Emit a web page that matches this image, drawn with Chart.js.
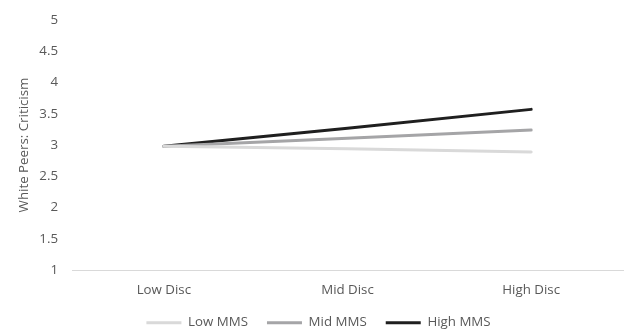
<!DOCTYPE html>
<html>
<head>
<meta charset="utf-8">
<script src="https://cdn.jsdelivr.net/npm/chart.js@4/dist/chart.umd.min.js"></script>
<style>
html,body{margin:0;padding:0;background:#fff;}
#wrap{width:628px;height:333px;}
</style>
</head>
<body>
<div id="wrap"><canvas id="c" width="628" height="333"></canvas></div>
<script>
const categories = ["Low Disc", "Mid Disc", "High Disc"];
const lowMMS = [2.98, 2.94, 2.89];
const midMMS = [2.98, 3.11, 3.24];
const highMMS = [2.98, 3.27, 3.57];
const yTicks = [1, 1.5, 2, 2.5, 3, 3.5, 4, 4.5, 5];
const seriesNames = ["Low MMS", "Mid MMS", "High MMS"];
const yTitle = "White Peers: Criticism";

const FONT = "'Open Sans', 'Liberation Sans', sans-serif";
const TXT = "#595959";
const colors = ["#d9d9d9", "#a5a5a7", "#1f1f1f"];
const FS = 13.3;
const LEG_PAD = 19;
const LEG_H = 22;

const legendShift = {
  id: 'legendShift',
  afterInit(chart) {
    const lg = chart.legend;
    if (!lg) return;
    const f = lg.fit;
    lg.fit = function () { f.call(this); this.height = LEG_H; };
  },
  afterLayout(chart) {
    const lg = chart.legend;
    lg.top = 322 - LEG_PAD - 6;
    lg.bottom = 333;
  }
};

new Chart(document.getElementById('c'), {
  type: 'line',
  data: {
    labels: categories,
    datasets: [lowMMS, midMMS, highMMS].map((d, i) => ({
      label: seriesNames[i],
      data: d,
      borderColor: colors[i],
      backgroundColor: colors[i],
      borderWidth: 3,
      pointRadius: 0,
      tension: 0,
      borderCapStyle: 'round'
    }))
  },
  plugins: [legendShift],
  options: {
    responsive: false,
    animation: false,
    layout: { padding: { left: 14, right: 5, top: 0, bottom: 0 } },
    plugins: {
      tooltip: { enabled: false },
      legend: {
        position: 'bottom',
        labels: {
          boxWidth: 35,
          boxHeight: 3,
          padding: LEG_PAD,
          color: TXT,
          font: { family: FONT, size: FS },
          generateLabels(chart) {
            return chart.data.datasets.map((ds, i) => ({
              text: ds.label,
              fillStyle: ds.borderColor,
              strokeStyle: ds.borderColor,
              lineWidth: 0,
              hidden: false,
              datasetIndex: i,
              fontColor: TXT
            }));
          }
        }
      }
    },
    scales: {
      x: {
        offset: true,
        grid: { display: false, drawTicks: false },
        border: { display: true, color: '#d9d9d9', width: 1 },
        ticks: { color: TXT, font: { family: FONT, size: FS }, padding: 12.5 }
      },
      y: {
        min: 1, max: 5,
        afterBuildTicks(axis) { axis.ticks = yTicks.map(v => ({ value: v })); },
        grid: { display: false, drawTicks: false },
        border: { display: false },
        ticks: { color: TXT, font: { family: FONT, size: FS, lineHeight: 0.9 }, padding: 14, callback: v => String(v) },
        title: { display: true, text: yTitle, color: TXT, font: { family: FONT, size: FS }, padding: 2 },
        afterFit(axis) { axis.width = 58; }
      }
    }
  }
});
</script>
</body>
</html>
